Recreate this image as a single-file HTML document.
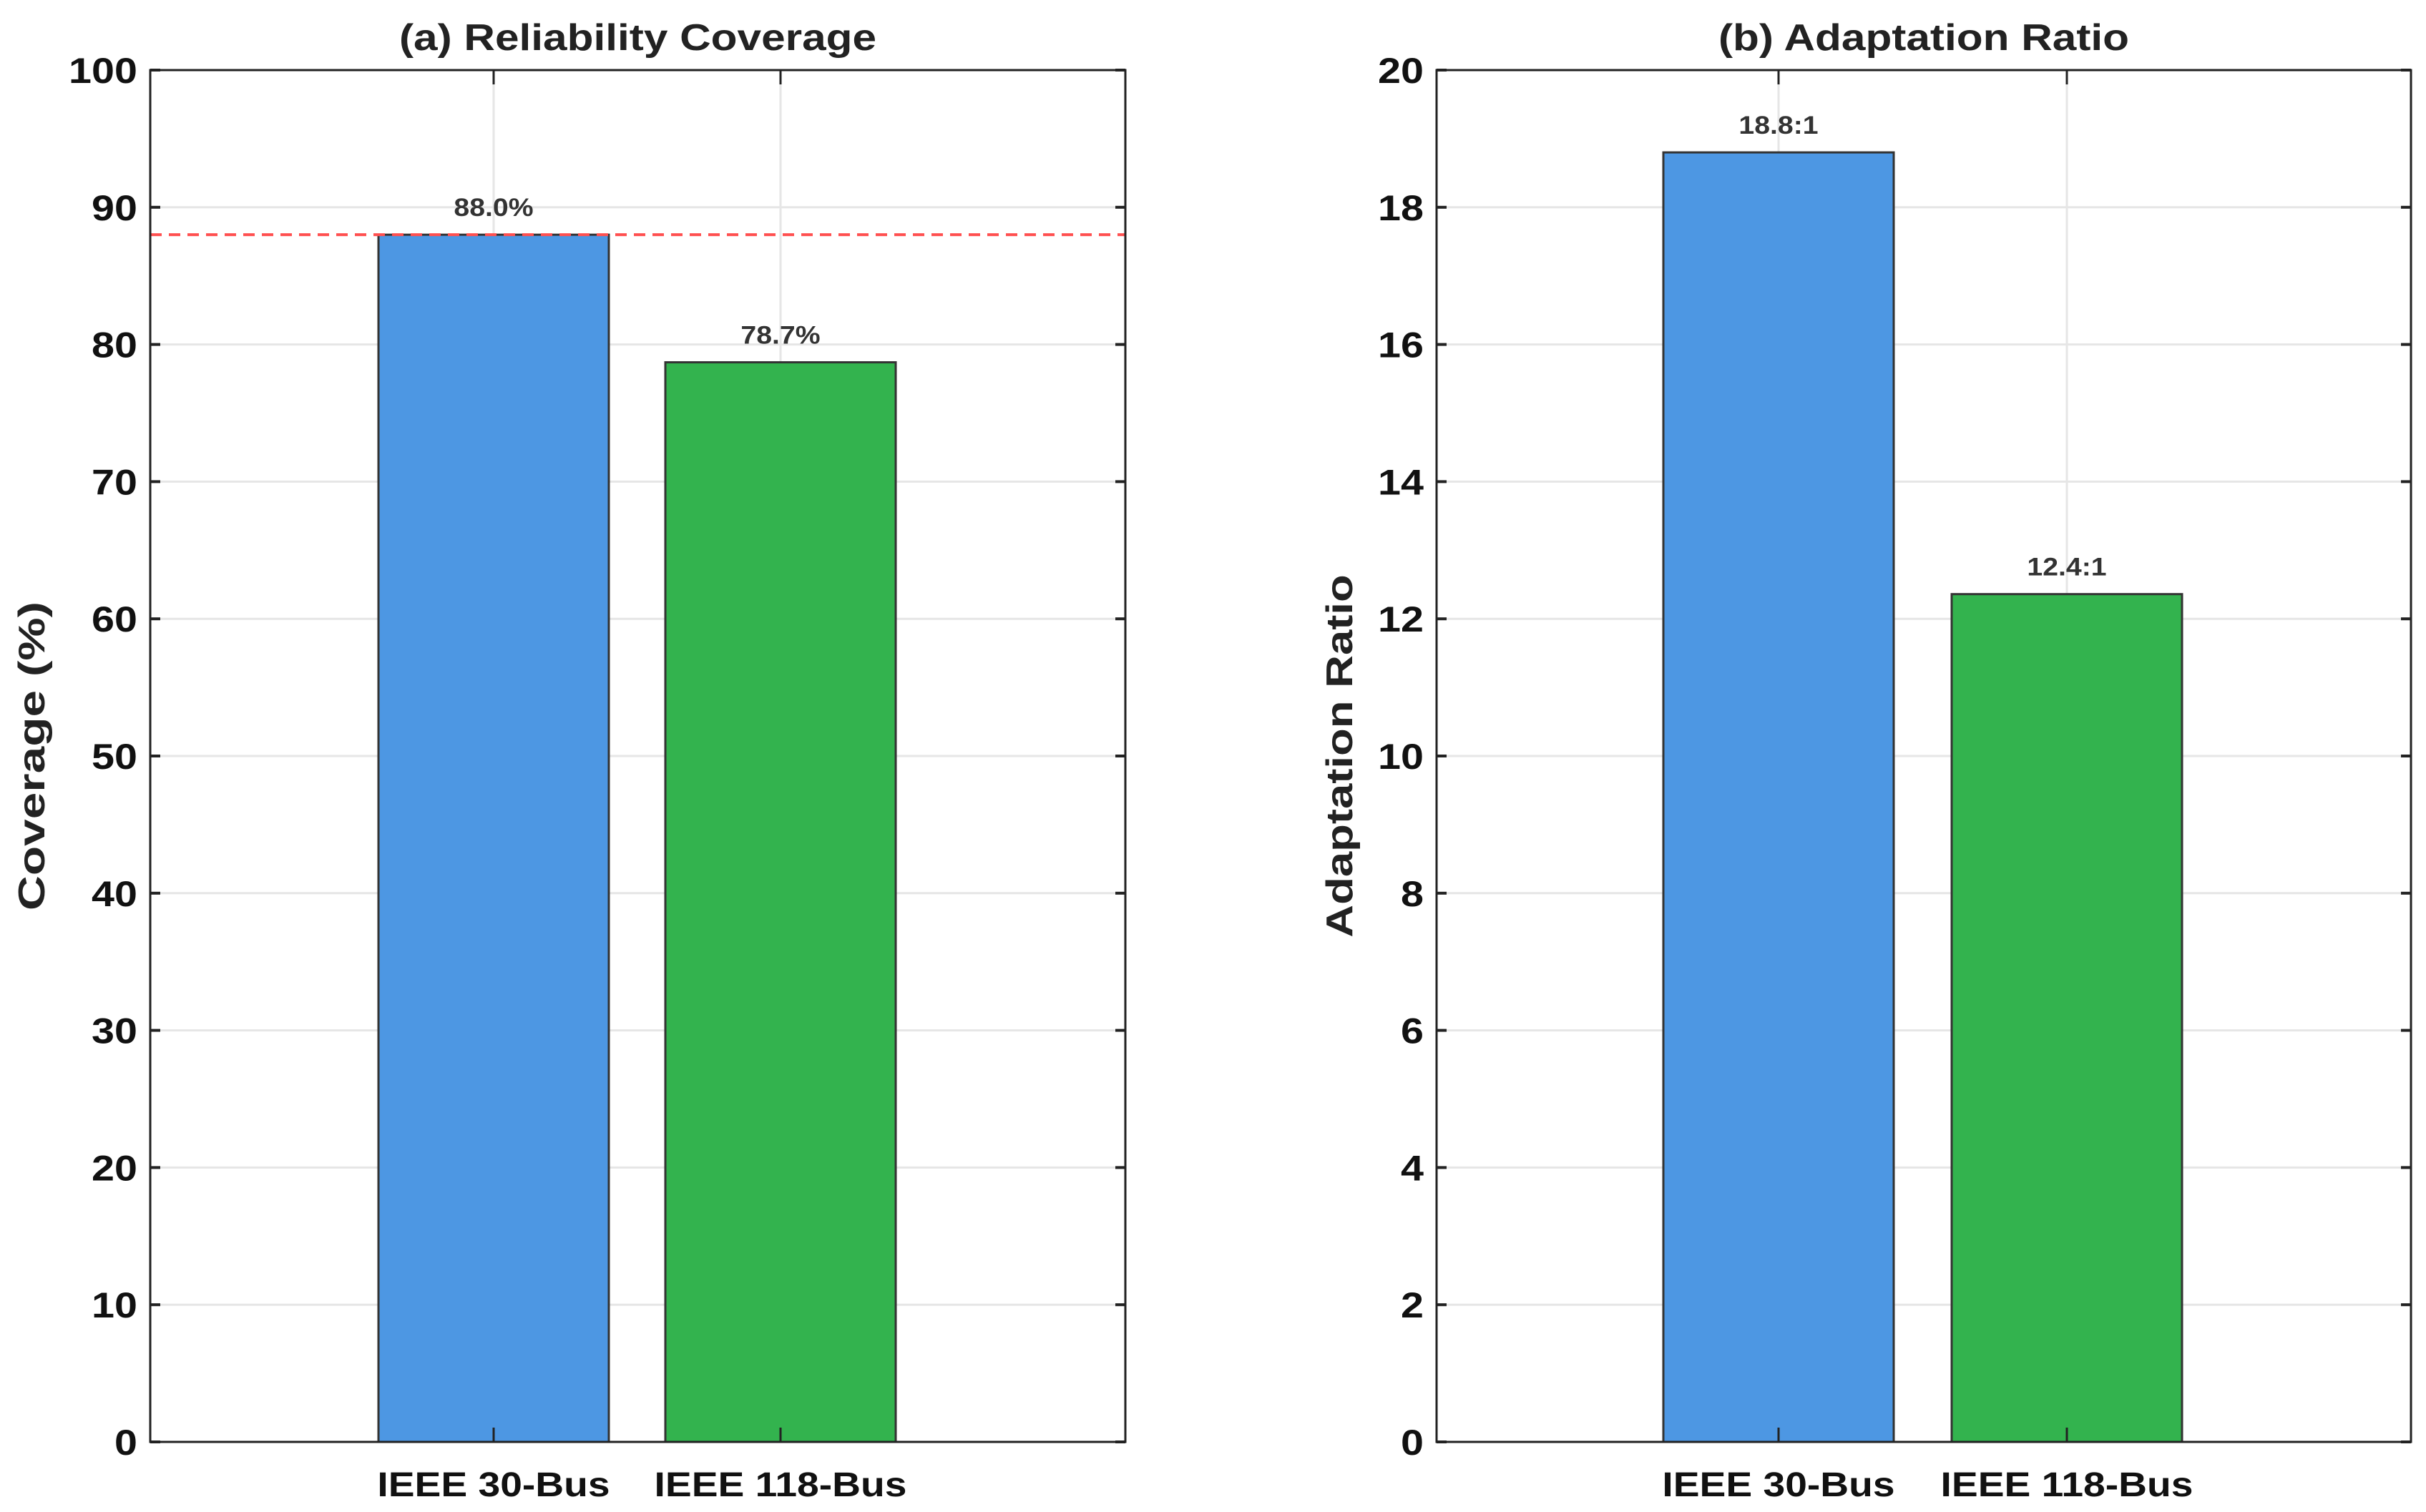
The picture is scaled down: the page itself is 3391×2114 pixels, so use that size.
<!DOCTYPE html>
<html><head><meta charset="utf-8"><style>
html,body{margin:0;padding:0;background:#fff;}
svg{display:block;font-family:"Liberation Sans",Arial,sans-serif;}
</style></head><body>
<svg id="chart" width="3391" height="2114" viewBox="0 0 3391 2114" xmlns="http://www.w3.org/2000/svg"></svg>
<script>
const categories = ["IEEE 30-Bus", "IEEE 118-Bus"];
const coverageValues = [88.0, 78.7];
const coverageLabels = ["88.0%", "78.7%"];
const ratioValues = [18.8, 12.36];
const ratioLabels = ["18.8:1", "12.4:1"];
const coverageTicks = [0,10,20,30,40,50,60,70,80,90,100];
const ratioTicks = [0,2,4,6,8,10,12,14,16,18,20];
const coverageTarget = 88.0;
const colors = ["#4d97e3", "#33b34e"];

const NS = "http://www.w3.org/2000/svg";
const svg = document.getElementById("chart");
function mk(tag, attrs, parent){const e=document.createElementNS(NS,tag);for(const k in attrs)e.setAttribute(k,attrs[k]);(parent||svg).appendChild(e);return e;}
function stretch(t,f){const w=t.getComputedTextLength();if(w>0){t.setAttribute("textLength",w*f);t.setAttribute("lengthAdjust","spacingAndGlyphs");}}

function panel(cfg){
  const g = mk("g",{});
  
  
  const top=98, bot=2016, L=cfg.left, R=cfg.right;
  const y = v => bot - (v - cfg.min)/(cfg.max-cfg.min)*(bot-top);
  const xc = i => cfg.cx0 + i*cfg.step;
  const bw = 322;
  cfg.ticks.forEach(t=>{
    const ln = mk("line",{x1:L,x2:R,y1:y(t),y2:y(t),stroke:"#e6e6e6","stroke-width":3},g);
    
    
  });
  categories.forEach((c,i)=>{
    const ln = mk("line",{x1:xc(i),x2:xc(i),y1:top,y2:bot,stroke:"#e6e6e6","stroke-width":3},g);
    
    
  });
  cfg.values.forEach((v,i)=>{
    const r = mk("rect",{x:xc(i)-bw/2,y:y(v),width:bw,height:bot-y(v),fill:colors[i],stroke:"#333","stroke-width":3},g);
    
    
    const t = mk("text",{x:xc(i),y:y(v)-26,"text-anchor":"middle","font-size":35,"font-weight":"bold",fill:"#333"},g);
    t.textContent = cfg.labels[i];
    
    
    stretch(t,1.12);
  });
  if(cfg.target!==undefined){
    const d = mk("line",{x1:L,x2:R,y1:y(cfg.target),y2:y(cfg.target),stroke:"#ff5050","stroke-width":4,"stroke-dasharray":"16,10"},g);
    
    
  }
  const fr = mk("rect",{x:L,y:top,width:R-L,height:bot-top,fill:"none",stroke:"#222","stroke-width":3},g);
  
  
  cfg.ticks.forEach(t=>{
    mk("line",{x1:L,x2:L+14,y1:y(t),y2:y(t),stroke:"#222","stroke-width":4},g);
    mk("line",{x1:R-14,x2:R,y1:y(t),y2:y(t),stroke:"#222","stroke-width":4},g);
    const tx = mk("text",{x:L-18,y:y(t)+18,"text-anchor":"end","font-size":50,"font-weight":"bold",fill:"#111"},g);
    tx.textContent = t;
    
    
    stretch(tx,1.15);
  });
  categories.forEach((c,i)=>{
    mk("line",{x1:xc(i),x2:xc(i),y1:bot,y2:bot-20,stroke:"#222","stroke-width":3},g);
    mk("line",{x1:xc(i),x2:xc(i),y1:top,y2:top+20,stroke:"#222","stroke-width":3},g);
    const tx = mk("text",{x:xc(i),y:2092,"text-anchor":"middle","font-size":48,"font-weight":"bold",fill:"#111"},g);
    tx.textContent = c;
    
    
    stretch(tx,1.15);
  });
  const ti = mk("text",{x:(L+R)/2,y:70,"text-anchor":"middle","font-size":52,"font-weight":"bold",fill:"#222"},g);
  ti.textContent = cfg.title;
  
  
  stretch(ti,1.16);
  const yl = mk("text",{x:0,y:0,"text-anchor":"middle","font-size":52,"font-weight":"bold",fill:"#222",transform:`translate(${cfg.ylx},${(top+bot)/2}) rotate(-90)`},g);
  yl.textContent = cfg.ylabel;
  
  
  stretch(yl,cfg.ylf);
}

panel({name:"panel-reliability-coverage",left:210,right:1573,cx0:690,step:401,min:0,max:100,ticks:coverageTicks,values:coverageValues,labels:coverageLabels,target:coverageTarget,title:"(a) Reliability Coverage",ylabel:"Coverage (%)",ylx:62,ylf:1.3});
panel({name:"panel-adaptation-ratio",left:2008,right:3370,cx0:2486,step:403,min:0,max:20,ticks:ratioTicks,values:ratioValues,labels:ratioLabels,title:"(b) Adaptation Ratio",ylabel:"Adaptation Ratio",ylx:1890,ylf:1.22});
</script>
</body></html>
